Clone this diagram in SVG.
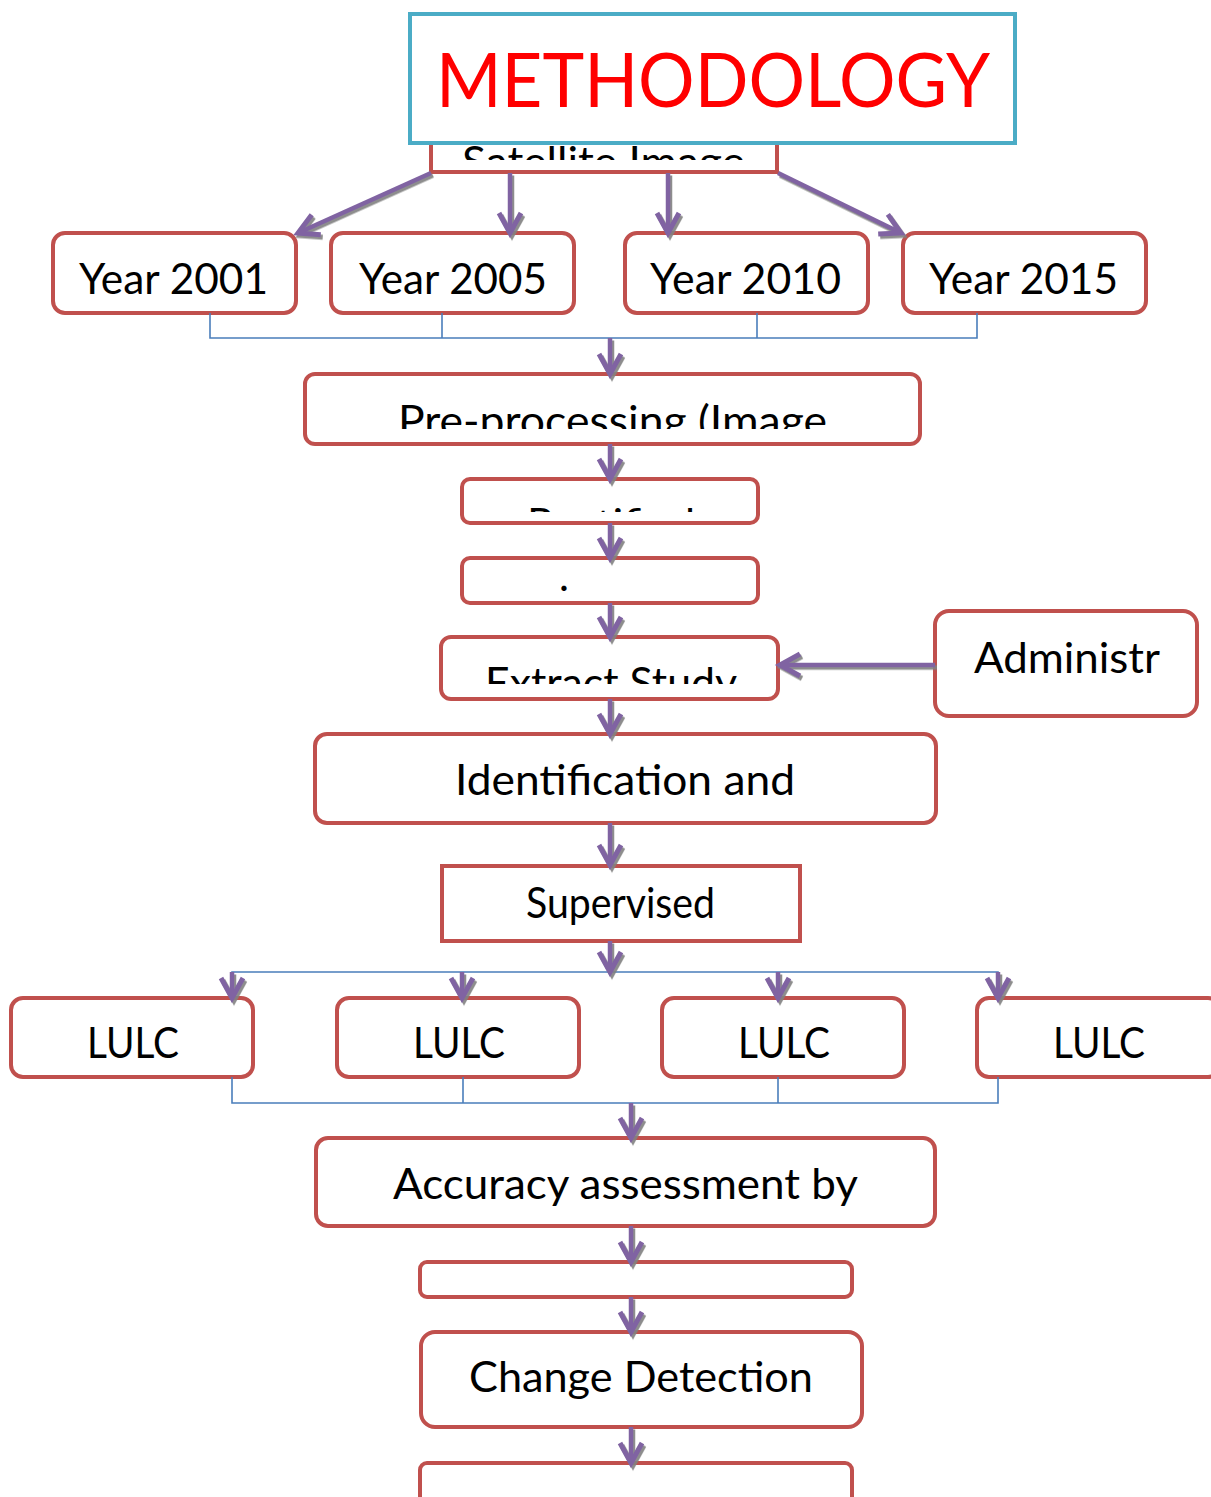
<svg xmlns="http://www.w3.org/2000/svg" width="1211" height="1497" viewBox="0 0 1211 1497">
<style>
.box{fill:#fff;stroke:#C0504D;stroke-width:4}
.t{font-family:Lato,"Open Sans","Liberation Sans",sans-serif;font-size:42px;fill:#000}
.arr{fill:none;stroke:#8064A2;stroke-width:4.5;marker-end:url(#ah)}
.blue{fill:none;stroke:#4A7EBB;stroke-width:1.6}
</style>
<defs>
<marker id="ah" markerUnits="userSpaceOnUse" markerWidth="30" markerHeight="30" viewBox="-25 -15 30 30" refX="0" refY="0" orient="auto" overflow="visible">
<path d="M-20,-11 L0,0 L-20,11" fill="none" stroke="#8064A2" stroke-width="5" stroke-linejoin="miter"/>
</marker>
<filter id="sh" x="-20%" y="-20%" width="140%" height="140%">
<feDropShadow dx="2" dy="2.5" stdDeviation="0.6" flood-color="#808080" flood-opacity="0.9"/>
</filter>
<clipPath id="cSat"><rect x="431" y="100" width="346" height="60"/></clipPath>
<clipPath id="cPre"><rect x="305" y="376" width="615" height="53"/></clipPath>
<clipPath id="cRec"><rect x="462" y="480" width="296" height="32"/></clipPath>
<clipPath id="cExt"><rect x="441" y="639" width="337" height="45"/></clipPath>
</defs>

<g id="n-satellite">
<rect class="box" x="431" y="110" width="346" height="62"/>
<text class="t" x="462" y="177" textLength="283" lengthAdjust="spacingAndGlyphs" clip-path="url(#cSat)">Satellite Image</text>
</g>
<g id="n-methodology">
<rect x="410" y="14" width="605" height="129" fill="#fff" stroke="#4BACC6" stroke-width="4"/>
<text x="436" y="107" font-family="Lato,'Open Sans','Liberation Sans',sans-serif" font-size="75" fill="#FF0000" textLength="554" lengthAdjust="spacingAndGlyphs">METHODOLOGY</text>
</g>

<g id="n-y2001"><rect class="box" x="53" y="233" width="243" height="80" rx="12"/>
<text class="t" x="79" y="294" textLength="189" lengthAdjust="spacingAndGlyphs">Year 2001</text></g>
<g id="n-y2005"><rect class="box" x="331" y="233" width="243" height="80" rx="12"/>
<text class="t" x="359" y="294" textLength="188" lengthAdjust="spacingAndGlyphs">Year 2005</text></g>
<g id="n-y2010"><rect class="box" x="625" y="233" width="243" height="80" rx="12"/>
<text class="t" x="650" y="294" textLength="191" lengthAdjust="spacingAndGlyphs">Year 2010</text></g>
<g id="n-y2015"><rect class="box" x="903" y="233" width="243" height="80" rx="12"/>
<text class="t" x="929" y="294" textLength="189" lengthAdjust="spacingAndGlyphs">Year 2015</text></g>

<g id="n-preproc"><rect class="box" x="305" y="374" width="615" height="70" rx="10"/>
<text class="t" x="398" y="436" textLength="429" lengthAdjust="spacingAndGlyphs" clip-path="url(#cPre)">Pre-processing (Image</text></g>

<g id="n-rectified"><rect class="box" x="462" y="479" width="296" height="44" rx="8"/>
<text class="t" x="527" y="539" textLength="168" lengthAdjust="spacingAndGlyphs" clip-path="url(#cRec)">Rectified</text></g>

<g id="n-dot"><rect class="box" x="462" y="558" width="296" height="45" rx="8"/>
<text class="t" x="559" y="591" font-size="30">.</text></g>

<g id="n-extract"><rect class="box" x="441" y="637" width="337" height="62" rx="10"/>
<text class="t" x="485" y="698" textLength="252" lengthAdjust="spacingAndGlyphs" clip-path="url(#cExt)">Extract Study</text></g>

<g id="n-admin"><rect class="box" x="935" y="611" width="262" height="105" rx="14"/>
<text class="t" x="974" y="673" textLength="186" lengthAdjust="spacingAndGlyphs">Administr</text></g>

<g id="n-ident"><rect class="box" x="315" y="734" width="621" height="89" rx="12"/>
<text class="t" x="455" y="795" textLength="340" lengthAdjust="spacingAndGlyphs">Identification and</text></g>

<g id="n-supervised"><rect class="box" x="442" y="866" width="358" height="75"/>
<text class="t" x="526" y="918" font-size="36" textLength="189" lengthAdjust="spacingAndGlyphs">Supervised</text></g>

<g id="n-lulc1"><rect class="box" x="11" y="998" width="242" height="79" rx="12"/>
<text class="t" x="87" y="1058" textLength="92" lengthAdjust="spacingAndGlyphs">LULC</text></g>
<g id="n-lulc2"><rect class="box" x="337" y="998" width="242" height="79" rx="12"/>
<text class="t" x="413" y="1058" textLength="92" lengthAdjust="spacingAndGlyphs">LULC</text></g>
<g id="n-lulc3"><rect class="box" x="662" y="998" width="242" height="79" rx="12"/>
<text class="t" x="738" y="1058" textLength="92" lengthAdjust="spacingAndGlyphs">LULC</text></g>
<g id="n-lulc4"><rect class="box" x="977" y="998" width="243" height="79" rx="12"/>
<text class="t" x="1053" y="1058" textLength="92" lengthAdjust="spacingAndGlyphs">LULC</text></g>

<g id="n-accuracy"><rect class="box" x="316" y="1138" width="619" height="88" rx="12"/>
<text class="t" x="393" y="1199" textLength="465" lengthAdjust="spacingAndGlyphs">Accuracy assessment by</text></g>

<g id="n-empty1"><rect class="box" x="420" y="1262" width="432" height="35" rx="7"/></g>

<g id="n-change"><rect class="box" x="421" y="1332" width="441" height="95" rx="14"/>
<text class="t" x="469" y="1392" textLength="344" lengthAdjust="spacingAndGlyphs">Change Detection</text></g>

<g id="n-empty2"><rect class="box" x="420" y="1463" width="432" height="45" rx="7"/></g>

<g id="connectors">
<g id="blue-lines">
<polyline class="blue" points="210,313 210,338 977,338 977,313"/>
<line class="blue" x1="442" y1="313" x2="442" y2="338"/>
<line class="blue" x1="757" y1="313" x2="757" y2="338"/>
<polyline class="blue" points="232,998 232,972 998,972 998,998"/>
<line class="blue" x1="462" y1="972" x2="462" y2="998"/>
<line class="blue" x1="778" y1="972" x2="778" y2="998"/>
<polyline class="blue" points="232,1077 232,1103 998,1103 998,1077"/>
<line class="blue" x1="463" y1="1077" x2="463" y2="1103"/>
<line class="blue" x1="778" y1="1077" x2="778" y2="1103"/>
</g>
<g id="arrows" filter="url(#sh)">
<line class="arr" x1="431" y1="173" x2="298" y2="233"/>
<line class="arr" x1="510" y1="173" x2="510" y2="233"/>
<line class="arr" x1="668" y1="173" x2="668" y2="233"/>
<line class="arr" x1="778" y1="173" x2="901" y2="233"/>
<line class="arr" x1="610" y1="338" x2="610" y2="374"/>
<line class="arr" x1="610" y1="444" x2="610" y2="479"/>
<line class="arr" x1="610" y1="523" x2="610" y2="558"/>
<line class="arr" x1="610" y1="603" x2="610" y2="637"/>
<line class="arr" x1="935" y1="665" x2="780" y2="665"/>
<line class="arr" x1="610" y1="699" x2="610" y2="734"/>
<line class="arr" x1="610" y1="823" x2="610" y2="865"/>
<line class="arr" x1="610" y1="941" x2="610" y2="972"/>
<line class="arr" x1="232" y1="972" x2="232" y2="998"/>
<line class="arr" x1="462" y1="972" x2="462" y2="998"/>
<line class="arr" x1="778" y1="972" x2="778" y2="998"/>
<line class="arr" x1="998" y1="972" x2="998" y2="998"/>
<line class="arr" x1="631" y1="1103" x2="631" y2="1138"/>
<line class="arr" x1="631" y1="1226" x2="631" y2="1262"/>
<line class="arr" x1="631" y1="1297" x2="631" y2="1332"/>
<line class="arr" x1="631" y1="1427" x2="631" y2="1463"/>
</g>
</g>
</svg>
